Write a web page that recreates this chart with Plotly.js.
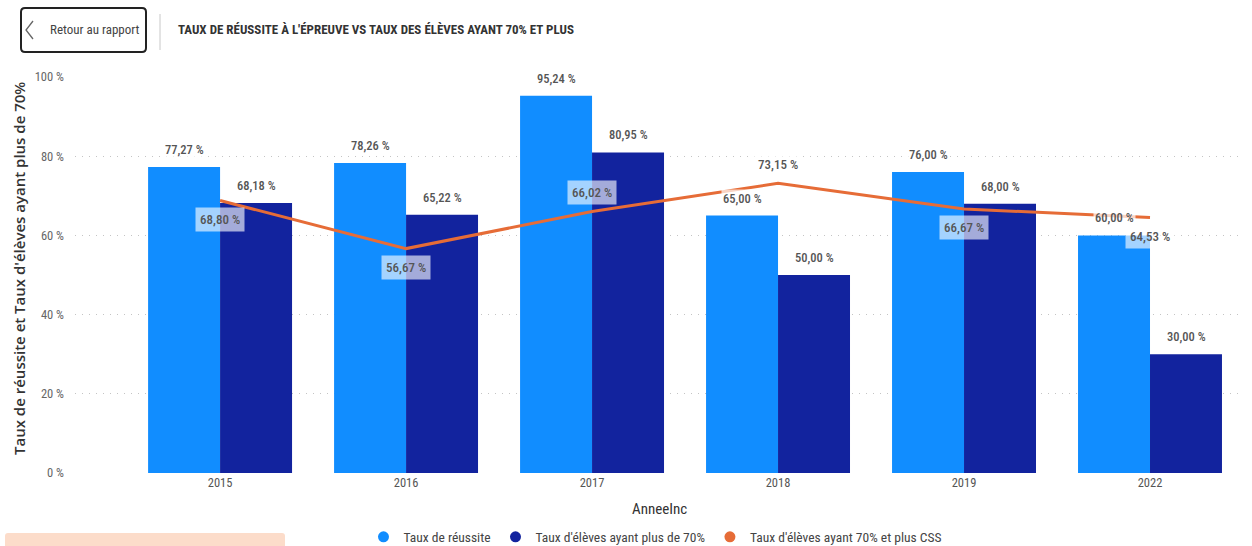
<!DOCTYPE html>
<html><head><meta charset="utf-8">
<script src="https://cdn.plot.ly/plotly-3.0.1.min.js"></script>
<style>html,body{margin:0;padding:0;background:#fff;}#chart{width:1252px;height:546px;}</style>
</head><body><div id="chart"></div>
<script>
// ---- data ----
const years = ['2015', '2016', '2017', '2018', '2019', '2022'];
const tauxReussite = [77.27, 78.26, 95.24, 65.00, 76.00, 60.00];
const tauxEleves70 = [68.18, 65.22, 80.95, 50.00, 68.00, 30.00];
const tauxCSS = [68.80, 56.67, 66.02, 73.15, 66.67, 64.53];
const yTickVals = [0, 20, 40, 60, 80, 100];
const seriesNames = ['Taux de réussite', "Taux d'élèves ayant plus de 70%", "Taux d'élèves ayant 70% et plus CSS"];
const chartTitle = "TAUX DE RÉUSSITE À L'ÉPREUVE VS TAUX DES ÉLÈVES AYANT 70% ET PLUS";
const backLabel = 'Retour au rapport';
const xTitle = 'AnneeInc';
const yTitle = "Taux de réussite et Taux d'élèves ayant plus de 70%";

// ---- style ----
const cssLabelSide = [1, 1, -1, -1, 1, 1]; // 1 = below point, -1 = above
const colors = ['#118DFF', '#12239E', '#E66C37'];
const condensed = "'Liberation Sans Narrow', 'Roboto Condensed', Roboto, sans-serif";
const W = 1252, H = 546;
const M = {l: 75, r: 9, t: 77, b: 73};
const plotW = W - M.l - M.r, plotH = H - M.t - M.b;
const px = x => (x - M.l) / plotW;
const py = y => (H - M.b - y) / plotH;
const fmt = v => v.toFixed(2).replace('.', ',') + ' %';
const idx = years.map((_, i) => i);

const traces = [
  {type: 'bar', name: seriesNames[0], x: idx, y: tauxReussite, marker: {color: colors[0]}, showlegend: false, hoverinfo: 'skip'},
  {type: 'bar', name: seriesNames[1], x: idx, y: tauxEleves70, marker: {color: colors[1]}, showlegend: false, hoverinfo: 'skip'},
  {type: 'scatter', mode: 'lines', name: seriesNames[2], x: idx, y: tauxCSS, line: {color: colors[2], width: 3}, showlegend: false, hoverinfo: 'skip'}
];
// legend-only entries (circle symbols like the reference)
seriesNames.forEach((n, i) => traces.push({
  type: 'scatter', mode: 'markers', name: n, x: [null], y: [null],
  marker: {color: colors[i], size: 11, symbol: 'circle'}, showlegend: true
}));

const annotations = [];
const barOffset = 36;
const labelFont = {family: condensed, size: 12.5, color: '#555', weight: 500};
idx.forEach(i => {
  annotations.push({x: i, y: tauxReussite[i], xref: 'x', yref: 'y', text: fmt(tauxReussite[i]), showarrow: false,
    xshift: -barOffset, yshift: 8, yanchor: 'bottom', font: labelFont,
    bgcolor: 'rgba(255,255,255,0.7)', borderpad: 1});
  annotations.push({x: i, y: tauxEleves70[i], xref: 'x', yref: 'y', text: fmt(tauxEleves70[i]), showarrow: false,
    xshift: barOffset, yshift: 8, yanchor: 'bottom', font: labelFont,
    bgcolor: 'rgba(255,255,255,0.7)', borderpad: 1});
  annotations.push({x: i, y: tauxCSS[i], xref: 'x', yref: 'y', text: fmt(tauxCSS[i]), showarrow: false,
    yshift: -19 * cssLabelSide[i], yanchor: 'middle', font: {family: condensed, size: 13, color: '#555', weight: 500},
    bgcolor: 'rgba(255,255,255,0.62)', borderpad: 4});
});
// axis titles
annotations.push({xref: 'paper', yref: 'paper', x: px(659), y: py(509), text: xTitle, showarrow: false,
  xanchor: 'center', yanchor: 'middle', font: {family: condensed, size: 15, color: '#333'}});
annotations.push({xref: 'paper', yref: 'paper', x: px(19), y: py(269), text: yTitle, showarrow: false, textangle: -90,
  xanchor: 'center', yanchor: 'middle', font: {family: "'Open Sans', sans-serif", size: 15, color: '#333', weight: 600}});
// header
annotations.push({xref: 'paper', yref: 'paper', x: px(48), y: py(30), text: backLabel, showarrow: false,
  xanchor: 'left', yanchor: 'middle', font: {family: condensed, size: 13, color: '#444'}});
annotations.push({xref: 'paper', yref: 'paper', x: px(176), y: py(30), text: '<b>' + chartTitle + '</b>', showarrow: false,
  xanchor: 'left', yanchor: 'middle', font: {family: condensed, size: 13, color: '#333'}});

function roundRect(x0, y0, x1, y1, r) {
  const P = (x, y) => px(x) + ',' + py(y);
  return 'M' + P(x0 + r, y0) + ' L' + P(x1 - r, y0) + ' Q' + P(x1, y0) + ' ' + P(x1, y0 + r) +
    ' L' + P(x1, y1 - r) + ' Q' + P(x1, y1) + ' ' + P(x1 - r, y1) +
    ' L' + P(x0 + r, y1) + ' Q' + P(x0, y1) + ' ' + P(x0, y1 - r) +
    ' L' + P(x0, y0 + r) + ' Q' + P(x0, y0) + ' ' + P(x0 + r, y0) + ' Z';
}
const shapes = [
  {type: 'path', xref: 'paper', yref: 'paper', path: roundRect(21, 8, 146, 52, 4), line: {color: '#222', width: 2}, fillcolor: 'rgba(0,0,0,0)'},
  {type: 'path', xref: 'paper', yref: 'paper', path: 'M' + px(33) + ',' + py(21) + ' L' + px(26) + ',' + py(30) + ' L' + px(33) + ',' + py(39),
    line: {color: '#666', width: 1.3}},
  {type: 'line', xref: 'paper', yref: 'paper', x0: px(160), x1: px(160), y0: py(14), y1: py(50), line: {color: '#c8c8c8', width: 1}},
  {type: 'path', xref: 'paper', yref: 'paper', path: roundRect(5, 533, 285, 552, 3), line: {width: 0}, fillcolor: '#FCDCCA'}
];

const layout = {
  width: W, height: H,
  margin: M,
  paper_bgcolor: '#fff', plot_bgcolor: '#fff',
  barmode: 'group', bargap: 0.226, bargroupgap: 0,
  showlegend: true,
  legend: {orientation: 'h', xref: 'container', yref: 'container', x: 655 / W, xanchor: 'center', y: (H - 537) / H, yanchor: 'middle',
    font: {family: condensed, size: 13.5, color: '#444'}, itemwidth: 30, tracegroupgap: 0, bgcolor: 'rgba(0,0,0,0)'},
  xaxis: {range: [-0.78, 5.5], tickmode: 'array', tickvals: idx, ticktext: years, showgrid: false, zeroline: false, showline: false, ticks: '',
    tickfont: {family: condensed, size: 12.5, color: '#555'}, fixedrange: true, automargin: false},
  yaxis: {range: [0, 100], tickmode: 'array', tickvals: yTickVals, ticktext: yTickVals.map(v => v + ' %'), showgrid: true,
    gridcolor: '#c4c4c4', griddash: '1px,6px', gridwidth: 1.2, zeroline: false, showline: false, ticks: '', ticklabelstandoff: 10,
    tickfont: {family: condensed, size: 12.5, color: '#666'}, fixedrange: true, automargin: false},
  annotations: annotations,
  shapes: shapes
};
Plotly.newPlot('chart', traces, layout, {displayModeBar: false, staticPlot: true});
</script>
</body></html>
